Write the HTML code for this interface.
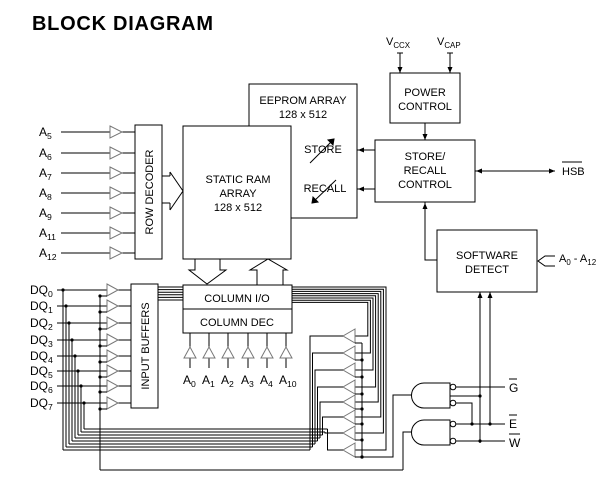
<!DOCTYPE html>
<html><head><meta charset="utf-8"><style>
html,body{margin:0;padding:0;background:#fff;}
svg{display:block;font-family:"Liberation Sans",Arial,sans-serif;}
</style></head><body>
<svg id="s" width="616" height="488" viewBox="0 0 616 488" xmlns="http://www.w3.org/2000/svg">
<g stroke="#000" stroke-width="1" fill="none" id="g"></g>
<text x="32" y="30" font-size="20" font-weight="bold" textLength="181">BLOCK DIAGRAM</text>
</svg>
<script>
var g=document.getElementById('g'),s=document.getElementById('s'),NS='http://www.w3.org/2000/svg';
function el(t,a,p){var e=document.createElementNS(NS,t);for(var k in a)e.setAttribute(k,a[k]);(p||g).appendChild(e);return e;}
function L(x1,y1,x2,y2){el('line',{x1:x1,y1:y1,x2:x2,y2:y2});}
function P(d,f){el('path',{d:d,fill:f||'none'});}
function R(x,y,w,h){el('rect',{x:x,y:y,width:w,height:h,fill:'#fff'});}
function D(x,y){el('circle',{cx:x,cy:y,r:1.6,fill:'#000',stroke:'none'});}
function T(x,y,txt,sz,anc,sub){var t=el('text',{x:x,y:y,'font-size':sz||11,'text-anchor':anc||'start',fill:'#000'},s);
 var a=document.createElementNS(NS,'tspan');a.textContent=txt;t.appendChild(a);
 if(sub){var b=document.createElementNS(NS,'tspan');b.setAttribute('font-size',(sz||11)*0.72);b.setAttribute('dy','3');b.textContent=sub;t.appendChild(b);}return t;}
function AH(x,y,dir){var d={l:[x,y,x+6,y-2.5,x+6,y+2.5],r:[x,y,x-6,y-2.5,x-6,y+2.5],u:[x,y,x-2.5,y+6,x+2.5,y+6],d:[x,y,x-2.5,y-6,x+2.5,y-6]}[dir];
 el('polygon',{points:d.join(' '),fill:'#000',stroke:'none'});}
var gray='#777';
function TRI(pts){el('polygon',{points:pts,fill:'#fff',stroke:gray});}

// boxes
R(249,84,108,134);
R(183,126,108,133);
R(135,125,27,134);
R(375,140,100,62);
R(390,73,70,50);
R(437,230,100,62);
R(183,285,109,24);R(183,309,109,24);
R(131,284,27,124);

// row address inputs
var ay=[132,153,173,193,213,233,253],an=['5','6','7','8','9','11','12'];
for(var i=0;i<7;i++){L(61,ay[i],135,ay[i]);TRI('110,'+(ay[i]-6)+' 122,'+ay[i]+' 110,'+(ay[i]+6));T(39,ay[i]+4,'A',12,'start',an[i]);}
// row decoder -> sram bus
P('M162 176 H170 M162 203 H170 M170 172 L183 191 L170 210 M170 203 V210 M170 176 V172');
// store/recall
L(357,150,375,150);AH(358,150,'l');L(357,189,375,189);AH(358,189,'l');
L(310,163,334,139);L(312,203,336,180);
P('M312 203 l1 -6 l5 5 z','#000');
P('M334 139 l-1 6 l-5 -5 z','#000');
// power
L(400,53,400,73);L(397,53,403,53);AH(400,73,'d');L(450,53,450,73);L(447,53,453,53);AH(450,73,'d');
L(425,123,425,140);AH(425,140,'d');
L(475,171,555,171);AH(476,171,'l');AH(555,171,'r');
// software detect
P('M437 260 H425 V202');AH(425,203,'u');
P('M555 256 H545 L538 261 L545 266 H555');
L(480,443,480,292);AH(480,292,'u');L(490,424,490,292);AH(490,292,'u');
// sram <-> column io
P('M195 259 V270 H189 L207 284 L226 270 H220 V259');
P('M257 285 V270 H250 L268 259 L287 270 H283 V285');
// column address buffers
var cx=[190,209,228,248,267,286],cn=['0','1','2','3','4','10'];
for(var i=0;i<6;i++){L(cx[i],333,cx[i],368);TRI((cx[i]-6)+',358 '+cx[i]+',347 '+(cx[i]+6)+',358');T(cx[i]-7,384,'A',12,'start',cn[i]);}
// input buffers
var dy=[290,306,323,340,356,371,386,403];
for(var i=0;i<8;i++){
 var y=dy[i],vx=63+i*3,by=450-i*3,lx=310+i*2.5;
 L(57,y,131,y);D(vx,y);L(vx,y,vx,by);L(vx,by,lx,by);
 TRI('107,'+(y-6)+' 118,'+y+' 107,'+(y+6));
 L(100,y+6,107,y+6);D(100,y+6);
 T(30,y+4,'DQ',12,'start',String(i));
}
L(100,296,100,470);L(100,470,403,470);P('M403 470 V432 H412');
// input buffers -> column io bus
for(var j=0;j<6;j++)L(158,287+j*2.6,183,287+j*2.6);
// column io -> output buffers
var oy=[336,353,370,387,402,417,433,450];
for(var j=0;j<8;j++){var y=287+j*2.2,x=386-j*2.6,bi=7-j;P('M292 '+y+' H'+x+' V'+oy[bi]+' H355');}
for(var i=0;i<8;i++){
 var y=oy[i];TRI('355,'+(y-7)+' 343,'+y+' 355,'+(y+7));
 var lx=310+i*2.5,by=450-i*3;P('M343 '+y+' H'+lx+' V'+by);
 L(355,y+7,362,y+7);if(i>0)D(362,y+7);
}
L(362,343,362,457);D(362,457);P('M362 457 H393 V395 H412');
// gates
P('M424 383 H450 V408 H424 A12.5 12.5 0 0 1 424 383 Z','#fff');
P('M424 420 H450 V445 H424 A12.5 12.5 0 0 1 424 420 Z','#fff');
el('circle',{cx:453,cy:387,r:2.8,fill:'#fff'});el('circle',{cx:453,cy:403,r:2.8,fill:'#fff'});
el('circle',{cx:453,cy:424,r:2.8,fill:'#fff'});el('circle',{cx:453,cy:441,r:2.8,fill:'#fff'});
L(456,387,505,387);L(450,396,480,396);D(480,396);
P('M456 403 H472 V424');L(456,424,505,424);D(472,424);D(490,424);
L(456,441,505,441);D(480,441);
T(509,392,'G',12);L(509,379,517,379);
T(509,428,'E',12);L(509,415,517,415);
T(509,447,'W',12);L(509,434,520,434);
// labels
T(303,104,'EEPROM ARRAY',11,'middle');T(303,118,'128 x 512',11,'middle');
T(323,153,'STORE',11,'middle');T(325,192,'RECALL',11,'middle');
T(238,183,'STATIC RAM',11,'middle');T(238,197,'ARRAY',11,'middle');T(238,211,'128 x 512',11,'middle');
var t=T(0,0,'ROW DECODER',11,'middle');t.setAttribute('transform','translate(153,192) rotate(-90)');
var t2=T(0,0,'INPUT BUFFERS',11,'middle');t2.setAttribute('transform','translate(149,346) rotate(-90)');
T(237,302,'COLUMN I/O',11,'middle');T(237,326,'COLUMN DEC',11,'middle');
T(425,96,'POWER',11,'middle');T(425,110,'CONTROL',11,'middle');
T(425,160,'STORE/',11,'middle');T(425,174,'RECALL',11,'middle');T(425,188,'CONTROL',11,'middle');
T(487,259,'SOFTWARE',11,'middle');T(487,273,'DETECT',11,'middle');
T(562,175,'HSB',11);L(562,162,582,162);
var a=T(559,262,'A',11,'start','0');var sp=document.createElementNS(NS,'tspan');sp.setAttribute('dy','-3');sp.textContent=' - A';a.appendChild(sp);
var sb=document.createElementNS(NS,'tspan');sb.setAttribute('font-size','8');sb.setAttribute('dy','3');sb.textContent='12';a.appendChild(sb);
T(386,45,'V',11,'start','CCX');T(437,45,'V',11,'start','CAP');
</script>
</body></html>
